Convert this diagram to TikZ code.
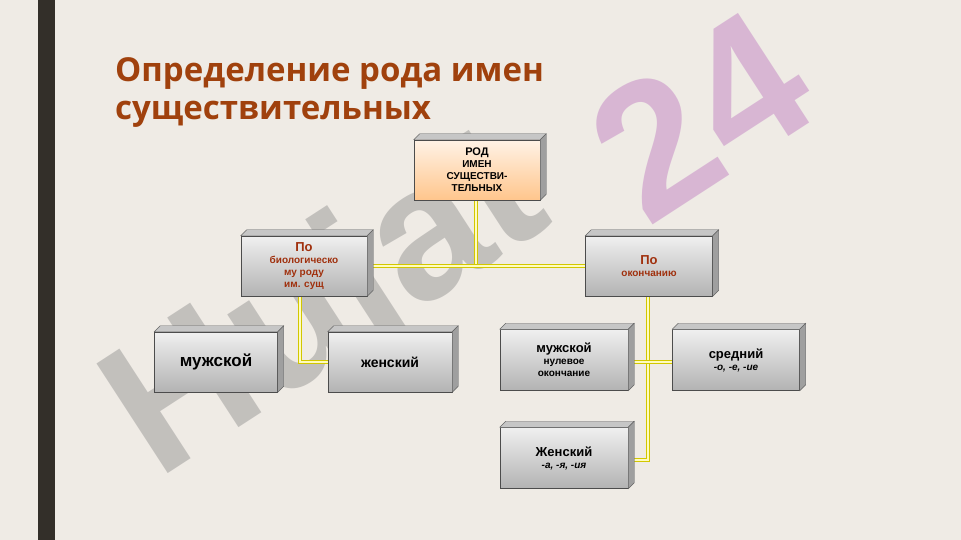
\documentclass[tikz,border=0pt]{standalone}
\usepackage{fontspec}
\setmainfont{Open Sans}
\setsansfont{Liberation Sans}
\definecolor{bg}{HTML}{EFEBE5}
\definecolor{brn}{HTML}{A0410D}
\definecolor{lbl}{HTML}{A0300D}
\tikzset{
 box/.style={draw=black!70,line width=0.5pt,top color=gray!12,bottom color=gray!60,font=\sffamily\bfseries,align=center,inner sep=1pt},
 lbox/.style={box,text=lbl},
 obox/.style={box,top color=orange!10,bottom color=orange!45},
 conn/.style={draw=yellow!60!olive,double=yellow!25,double distance=2pt,line width=0.6pt}
}
\newcommand\tdbox[6]{%
 \node[#6,minimum width=#3pt,minimum height=#4pt] (#1) at (#2) {#5};
 \fill[gray!45,draw=black!60] (#1.north west) -- ++(6,-6) -- ([xshift=6pt,yshift=6pt]#1.north east) -- (#1.north east) -- cycle;
 \fill[gray!75,draw=black!60] (#1.north east) -- ++(6,-6) -- ([xshift=6pt,yshift=6pt]#1.south east) -- (#1.south east) -- cycle;
}
\begin{document}
\begin{tikzpicture}[x=1pt,y=-1pt]
\fill[bg] (0,0) rectangle (961,540);
\useasboundingbox (0,0) rectangle (961,540);
\fill[black!85!olive] (38,0) rectangle (55,540);
\node[anchor=west,text=brn,font=\bfseries\fontsize{33}{38}\selectfont,align=left,inner sep=0pt] (title) at (115,93) {Определение рода имен\\существительных};
% watermark
\node[rotate=33,text=gray,opacity=0.4,font=\sffamily\bfseries\fontsize{190}{190}\selectfont] (wm1) at (330,310) {Hujat};
\node[rotate=33,text=violet!45,opacity=0.55,font=\sffamily\bfseries\fontsize{190}{190}\selectfont] (wm2) at (700,115) {24};
% connectors
\coordinate (j1) at (476,266);
\coordinate (j2) at (300,362);
\coordinate (j4) at (648,460);
\draw[conn] (476,200) -- (j1);
\draw[conn] (367,266) -- (586,266);
\draw[conn] (300,296) -- (j2) -- (328,362);
\draw[conn] (648,296) -- (j4) -- (628,460);
\draw[conn] (628,362) -- (673,362);
% boxes
\tdbox{root}{477,170}{126}{60}{\fontsize{11}{13}\selectfont РОД\\ИМЕН\\СУЩЕСТВИ-\\ТЕЛЬНЫХ}{obox}
\tdbox{bio}{304,266}{126}{60}{\fontsize{13}{15}\selectfont По\\биологическо\\му роду\\им. сущ}{lbox}
\tdbox{ok}{649,266}{127}{60}{\fontsize{13}{16}\selectfont По\\окончанию}{lbox}
\tdbox{m}{216,362}{123}{60}{\fontsize{17}{19}\selectfont мужской}{box}
\tdbox{f}{390,362}{124}{60}{\fontsize{14}{16}\selectfont женский}{box}
\tdbox{mz}{564,360}{128}{61}{\fontsize{13}{15}\selectfont мужской\\нулевое\\окончание}{box}
\tdbox{sr}{736,360}{127}{61}{\fontsize{13}{16}\selectfont средний\\\itshape -о, -е, -ие}{box}
\tdbox{zh}{564,458}{128}{61}{\fontsize{13}{16}\selectfont Женский\\\itshape -а, -я, -ия}{box}
\end{tikzpicture}
\end{document}
